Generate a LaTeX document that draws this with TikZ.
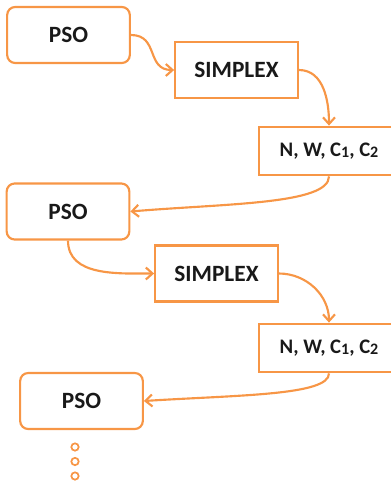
\documentclass[tikz,border=0pt]{standalone}
\usepackage{fontspec}
\setmainfont{Carlito}
\usetikzlibrary{arrows.meta}
\definecolor{acc}{RGB}{247,150,70}
\newcommand{\sbn}[1]{\raisebox{-0.6pt}{\fontsize{12}{12}\selectfont #1}}
\tikzset{
  base/.style={draw=acc, line width=1.6pt, font=\bfseries\fontsize{17.5}{19}\selectfont, text=black!90, inner sep=0pt},
  psobox/.style={base, rounded corners=6pt, minimum width=92pt, minimum height=42pt},
  simbox/.style={base, minimum width=92pt, minimum height=42pt},
  nwbox/.style={base, minimum width=105pt, minimum height=36.5pt, font=\bfseries\fontsize{15.5}{17}\selectfont},
  conn/.style={draw=acc, line width=1.6pt, -{Straight Barb[length=5pt,width=9pt]}},
  dotc/.style={draw=acc, line width=1.3pt, circle, minimum size=5.5pt, inner sep=0pt}
}
\begin{document}
\begin{tikzpicture}[x=0.75pt,y=-0.75pt]
\useasboundingbox (0,0) rectangle (391,485);
\clip (0,0) rectangle (391,485);
\node[psobox] (pso1) at (68.5,35) {PSO};
\node[simbox] (sim1) at (236.5,70) {SIMPLEX};
\node[nwbox] (nw1) at (329,151) {N, W, C\sbn{1}, C\sbn{2}};
\node[psobox] (pso2) at (68,211.5) {PSO};
\node[simbox] (sim2) at (216.5,273.5) {SIMPLEX};
\node[nwbox] (nw2) at (329,348) {N, W, C\sbn{1}, C\sbn{2}};
\node[psobox] (pso3) at (81.5,401) {PSO};
\node[dotc] (d1) at (75,447) {};
\node[dotc] (d2) at (75,461.5) {};
\node[dotc] (d3) at (75,476) {};
\draw[conn] (pso1.east) to[out=0,in=180,looseness=1.3] (sim1.west);
\draw[conn] (sim1.east) to[out=0,in=90] (nw1.north);
\draw[conn] (nw1.south) .. controls +(0,28) and +(95,-8) .. (pso2.east);
\draw[conn] (pso2.south) to[out=-90,in=180] (sim2.west);
\draw[conn] (sim2.east) to[out=0,in=90] (nw2.north);
\draw[conn] (nw2.south) .. controls +(0,22) and +(95,-6) .. (pso3.east);
\end{tikzpicture}
\end{document}
